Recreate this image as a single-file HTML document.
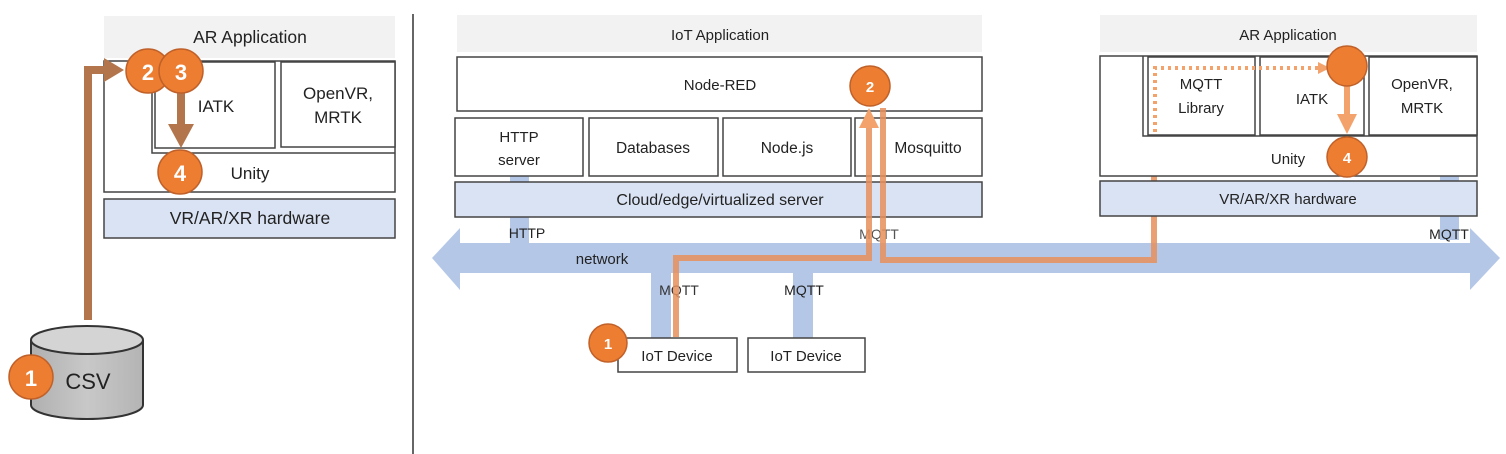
<!DOCTYPE html>
<html><head><meta charset="utf-8"><style>
body{margin:0;background:#fff}
svg{display:block}
text{font-family:"Liberation Sans",sans-serif;fill:#222}
</style></head><body>
<svg width="1506" height="454" viewBox="0 0 1506 454" xmlns="http://www.w3.org/2000/svg">
<defs>
<linearGradient id="cyl" x1="0" x2="1"><stop offset="0" stop-color="#b0b0b0"/><stop offset="0.5" stop-color="#c8c8c8"/><stop offset="1" stop-color="#b4b4b4"/></linearGradient>
</defs>
<line x1="413" y1="14" x2="413" y2="454" stroke="#666" stroke-width="2"/>

<!-- LEFT PANEL -->
<rect x="104" y="16" width="291" height="42" fill="#f2f2f2"/>
<text x="250" y="43" font-size="17.5" text-anchor="middle">AR Application</text>
<rect x="104" y="61" width="291" height="131" fill="#fff" stroke="#444" stroke-width="1.5"/>
<polyline points="152,90 152,153 395,153" fill="none" stroke="#444" stroke-width="1.5"/>
<rect x="155" y="62" width="120" height="86" fill="#fff" stroke="#444" stroke-width="1.5"/>
<text x="216" y="112" font-size="17" text-anchor="middle">IATK</text>
<rect x="281" y="62" width="114" height="85" fill="#fff" stroke="#444" stroke-width="1.5"/>
<text x="338" y="99" font-size="17" text-anchor="middle">OpenVR,</text>
<text x="338" y="123" font-size="17" text-anchor="middle">MRTK</text>
<text x="250" y="179" font-size="17" text-anchor="middle">Unity</text>
<rect x="104" y="199" width="291" height="39" fill="#dae3f3" stroke="#444" stroke-width="1.5"/>
<text x="250" y="224" font-size="17.5" text-anchor="middle">VR/AR/XR hardware</text>

<polyline points="88,320 88,70 110,70" fill="none" stroke="#b3764c" stroke-width="8"/>
<polygon points="104,58 124,70 104,82" fill="#b3764c"/>
<line x1="181" y1="92" x2="181" y2="128" stroke="#b3764c" stroke-width="8"/>
<polygon points="168,124 194,124 181,148" fill="#b3764c"/>

<path d="M31,340 L31,405 A56,14 0 0 0 143,405 L143,340" fill="url(#cyl)" stroke="#333" stroke-width="2"/>
<ellipse cx="87" cy="340" rx="56" ry="14" fill="#d4d4d4" stroke="#333" stroke-width="2"/>
<text x="88" y="389" font-size="22" text-anchor="middle">CSV</text>

<g font-weight="bold">
<circle cx="31" cy="377" r="22" fill="#ed7d31" stroke="#c0612a" stroke-width="1.5"/>
<text x="31" y="386" font-size="22" text-anchor="middle" style="fill:#fff">1</text>
<circle cx="148" cy="71" r="22" fill="#ed7d31" stroke="#c0612a" stroke-width="1.5"/>
<text x="148" y="80" font-size="22" text-anchor="middle" style="fill:#fff">2</text>
<circle cx="181" cy="71" r="22" fill="#ed7d31" stroke="#c0612a" stroke-width="1.5"/>
<text x="181" y="80" font-size="22" text-anchor="middle" style="fill:#fff">3</text>
<circle cx="180" cy="172" r="22" fill="#ed7d31" stroke="#c0612a" stroke-width="1.5"/>
<text x="180" y="181" font-size="22" text-anchor="middle" style="fill:#fff">4</text>
</g>

<!-- MIDDLE PANEL -->
<rect x="510" y="176" width="19" height="75" fill="#b4c7e7"/>
<rect x="1440" y="125" width="19" height="115" fill="#b4c7e7"/>
<rect x="651" y="260" width="20" height="80" fill="#b4c7e7"/>
<rect x="793" y="260" width="20" height="80" fill="#b4c7e7"/>
<polygon points="432,258 460,228 460,243 1470,243 1470,228 1500,258 1470,290 1470,273 460,273 460,290" fill="#b4c7e7"/>
<text x="602" y="264" font-size="15" text-anchor="middle">network</text>

<rect x="457" y="15" width="525" height="37" fill="#f2f2f2"/>
<text x="720" y="40" font-size="15" text-anchor="middle">IoT Application</text>
<rect x="457" y="57" width="525" height="54" fill="#fff" stroke="#444" stroke-width="1.5"/>
<text x="720" y="90" font-size="15" text-anchor="middle">Node-RED</text>
<rect x="455" y="118" width="128" height="58" fill="#fff" stroke="#444" stroke-width="1.5"/>
<text x="519" y="142" font-size="15" text-anchor="middle">HTTP</text>
<text x="519" y="165" font-size="15" text-anchor="middle">server</text>
<rect x="589" y="118" width="129" height="58" fill="#fff" stroke="#444" stroke-width="1.5"/>
<text x="653" y="153" font-size="15.5" text-anchor="middle">Databases</text>
<rect x="723" y="118" width="128" height="58" fill="#fff" stroke="#444" stroke-width="1.5"/>
<text x="787" y="153" font-size="15.5" text-anchor="middle">Node.js</text>
<rect x="855" y="118" width="127" height="58" fill="#fff" stroke="#444" stroke-width="1.5"/>
<text x="928" y="153" font-size="15.5" text-anchor="middle">Mosquitto</text>
<rect x="455" y="182" width="527" height="35" fill="#dae3f3" stroke="#444" stroke-width="1.5"/>
<text x="720" y="205" font-size="16" text-anchor="middle">Cloud/edge/virtualized server</text>

<text x="527" y="238" font-size="14" text-anchor="middle">HTTP</text>
<text x="879" y="239" font-size="14" text-anchor="middle" style="fill:#555">MQTT</text>
<text x="679" y="295" font-size="14" text-anchor="middle" style="fill:#333">MQTT</text>
<text x="804" y="295" font-size="14" text-anchor="middle">MQTT</text>
<text x="1449" y="239" font-size="14" text-anchor="middle">MQTT</text>

<rect x="618" y="338" width="119" height="34" fill="#fff" stroke="#444" stroke-width="1.5"/>
<text x="677" y="361" font-size="15" text-anchor="middle">IoT Device</text>
<rect x="748" y="338" width="117" height="34" fill="#fff" stroke="#444" stroke-width="1.5"/>
<text x="806" y="361" font-size="15" text-anchor="middle">IoT Device</text>

<g font-weight="bold">
<circle cx="870" cy="86" r="20" fill="#ed7d31" stroke="#c0612a" stroke-width="1.5"/>
<text x="870" y="92" font-size="15" text-anchor="middle" style="fill:#fff">2</text>
</g>
<polyline points="676,337 676,258 869,258 869,122" fill="none" stroke="#e88f5a" stroke-width="6" opacity="0.85"/>
<polygon points="859,128 879,128 869,108" fill="#f4a26c"/>
<polyline points="883,108 883,260 1154,260 1154,150" fill="none" stroke="#e88f5a" stroke-width="6" opacity="0.85"/>
<polygon points="1143,156 1165,156 1154,136" fill="#f4a26c"/>

<g font-weight="bold">
<circle cx="608" cy="343" r="19" fill="#ed7d31" stroke="#c0612a" stroke-width="1.5"/>
<text x="608" y="349" font-size="15" text-anchor="middle" style="fill:#fff">1</text>
</g>

<!-- RIGHT PANEL -->
<rect x="1100" y="15" width="377" height="37" fill="#f2f2f2"/>
<text x="1288" y="40" font-size="15" text-anchor="middle">AR Application</text>
<rect x="1100" y="56" width="377" height="120" fill="#fff" stroke="#444" stroke-width="1.5"/>
<polyline points="1143,56 1143,136 1477,136" fill="none" stroke="#444" stroke-width="1.5"/>
<rect x="1148" y="57" width="107" height="78" fill="#fff" stroke="#444" stroke-width="1.5"/>
<text x="1201" y="89" font-size="15" text-anchor="middle">MQTT</text>
<text x="1201" y="113" font-size="15" text-anchor="middle">Library</text>
<rect x="1260" y="57" width="104" height="78" fill="#fff" stroke="#444" stroke-width="1.5"/>
<text x="1312" y="104" font-size="15" text-anchor="middle">IATK</text>
<rect x="1369" y="57" width="108" height="78" fill="#fff" stroke="#444" stroke-width="1.5"/>
<text x="1422" y="89" font-size="15" text-anchor="middle">OpenVR,</text>
<text x="1422" y="113" font-size="15" text-anchor="middle">MRTK</text>
<text x="1288" y="164" font-size="15" text-anchor="middle">Unity</text>
<rect x="1100" y="181" width="377" height="35" fill="#dae3f3" stroke="#444" stroke-width="1.5"/>
<text x="1288" y="204" font-size="15" text-anchor="middle">VR/AR/XR hardware</text>

<polyline points="1155,132 1155,68 1322,68" fill="none" stroke="#f4a26c" stroke-width="4" stroke-dasharray="3,4"/>
<polygon points="1318,62 1330,68 1318,74" fill="#f4a26c"/>
<line x1="1347" y1="84" x2="1347" y2="118" stroke="#f4a26c" stroke-width="6"/>
<polygon points="1337,114 1357,114 1347,134" fill="#f4a26c"/>
<g font-weight="bold">
<circle cx="1347" cy="66" r="20" fill="#ed7d31" stroke="#c0612a" stroke-width="1.5"/>
<circle cx="1347" cy="157" r="20" fill="#ed7d31" stroke="#c0612a" stroke-width="1.5"/>
<text x="1347" y="163" font-size="15" text-anchor="middle" style="fill:#fff">4</text>
</g>
</svg>
</body></html>
